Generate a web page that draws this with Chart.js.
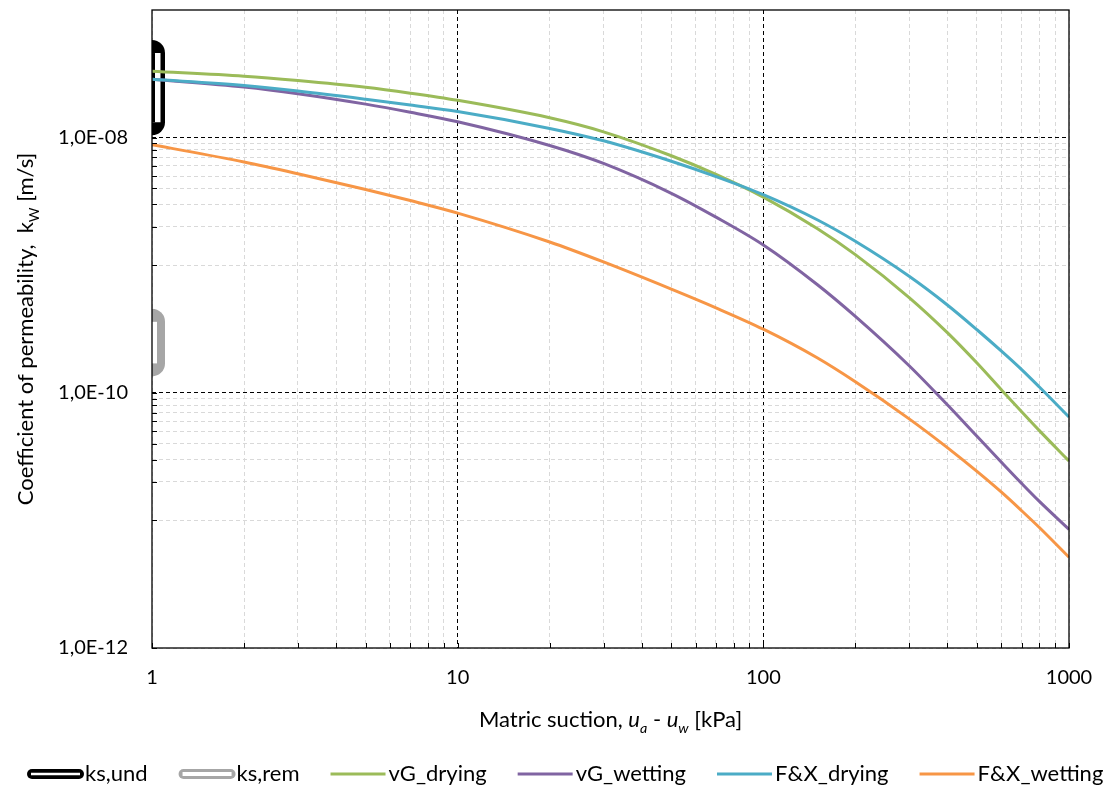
<!DOCTYPE html>
<html>
<head>
<meta charset="utf-8">
<script src="https://cdn.jsdelivr.net/npm/chart.js@4.4.1/dist/chart.umd.min.js"></script>
<style>
    html, body { margin: 0; padding: 0; background: #fff; }
</style>
</head>
<body>
<canvas id="myChart" width="1115" height="789"></canvas>

<script>
    // matric suction, ua - uw [kPa]
    const suction = [1, 2, 3, 5, 7, 10, 20, 30, 50, 70, 100, 150, 200, 300, 400, 500, 600, 700, 800, 1000];

    // coefficient of permeability kw [m/s]
    const vgDrying  = [3.31e-8, 3.03e-8, 2.80e-8, 2.48e-8, 2.23e-8, 1.96e-8, 1.43e-8, 1.11e-8, 7.21e-9, 5.15e-9,
                       3.42e-9, 1.94e-9, 1.21e-9, 5.58e-10, 2.96e-10, 1.71e-10, 1.06e-10, 7.10e-11, 5.05e-11, 2.92e-11];
    const vgWetting = [2.86e-8, 2.49e-8, 2.21e-8, 1.83e-8, 1.58e-8, 1.33e-8, 8.67e-9, 6.27e-9, 3.66e-9, 2.38e-9,
                       1.44e-9, 7.06e-10, 3.97e-10, 1.63e-10, 8.05e-11, 4.56e-11, 2.87e-11, 1.95e-11, 1.41e-11, 8.51e-12];
    const fxDrying  = [2.86e-8, 2.56e-8, 2.32e-8, 2.00e-8, 1.80e-8, 1.60e-8, 1.18e-8, 9.44e-9, 6.53e-9, 4.95e-9,
                       3.57e-9, 2.27e-9, 1.54e-9, 8.19e-10, 4.88e-10, 3.12e-10, 2.13e-10, 1.52e-10, 1.11e-10, 6.46e-11];
    const fxWetting = [8.79e-9, 6.44e-9, 5.21e-9, 3.92e-9, 3.21e-9, 2.56e-9, 1.52e-9, 1.06e-9, 6.49e-10, 4.63e-10,
                       3.15e-10, 1.88e-10, 1.22e-10, 6.25e-11, 3.72e-11, 2.42e-11, 1.67e-11, 1.19e-11, 8.79e-12, 5.14e-12];

    // saturated permeability ranges, plotted at the first suction value
    const ksSuction = [1, 1];
    const ksUnd = [1.32e-8, 4.6e-8];
    const ksRem = [1.7e-10, 3.6e-10];

    const xTickValues = [1, 10, 100, 1000];
    const xTickLabels = ['1', '10', '100', '1000'];
    const yTickValues = [1e-12, 1e-10, 1e-8];
    const yTickLabels = ['1,0E-12', '1,0E-10', '1,0E-08'];

    const FONT = 'Lato';

    // grid values: x in steps of 1..9 per decade, y in base-100 steps (k * 1e-11, k * 1e-9)
    const xGrid = [];
    for (let d = 0; d < 3; d++) {
        for (let k = 1; k < 10; k++) xGrid.push(k * Math.pow(10, d));
    }
    xGrid.push(1000);
    const yGrid = [1e-12];
    [-11, -9].forEach((e) => {
        for (let k = 1; k < 10; k++) yGrid.push(k * Math.pow(10, e));
        yGrid.push(Math.pow(10, e + 1));
    });

    function findIndex(list, value) {
        return list.findIndex((v) => Math.abs(Math.log10(v) - Math.log10(value)) < 1e-6);
    }

    function gridColor(list) {
        return (ctx) => (ctx.tick && findIndex(list, ctx.tick.value) >= 0) ? '#000000' : '#d9d9d9';
    }

    function points(xs, ys) {
        return xs.map((x, i) => ({ x: x, y: ys[i] }));
    }

    function curve(label, values, color, order) {
        return {
            label: label,
            data: points(suction, values),
            borderColor: color,
            backgroundColor: color,
            borderWidth: 3,
            pointRadius: 0,
            cubicInterpolationMode: 'monotone',
            order: order,
            clip: 0,
            legendIcon: 'line',
        };
    }

    function band(label, values, color, width, cap, order, icon) {
        return {
            label: label,
            data: points(ksSuction, values),
            borderColor: color,
            borderWidth: width,
            borderCapStyle: cap,
            pointRadius: 0,
            order: order,
            clip: 0,
            legendIcon: icon,
        };
    }

    const datasets = [
        band('ks,und', ksUnd, '#000000', 26, 'round', 12, 'ksund'),
        band('ks,und', ksUnd, '#ffffff', 17, 'butt', 11, null),
        band('ks,und', ksUnd, '#000000', 6, 'butt', 10, null),
        band('ks,rem', ksRem, '#a6a6a6', 26, 'round', 14, 'ksrem'),
        band('ks,rem', ksRem, '#ffffff', 10, 'butt', 13, null),
        curve('vG_drying', vgDrying, '#9bbb59', 4),
        curve('vG_wetting', vgWetting, '#8064a2', 3),
        curve('F&X_drying', fxDrying, '#4bacc6', 2),
        curve('F&X_wetting', fxWetting, '#f79646', 1),
    ];

    // frame, inward tick marks
    const framePlugin = {
        id: 'frame',
        afterDatasetsDraw(chart) {
            const { ctx, chartArea: a, scales } = chart;
            ctx.save();
            ctx.strokeStyle = '#000';
            ctx.lineWidth = 1;
            ctx.beginPath();
            xGrid.forEach((v) => {
                const px = Math.round(scales.x.getPixelForValue(v)) + 0.5;
                ctx.moveTo(px, a.bottom);
                ctx.lineTo(px, a.bottom - 5);
            });
            yGrid.forEach((v) => {
                const py = Math.round(scales.y.getPixelForValue(v)) + 0.5;
                ctx.moveTo(a.left, py);
                ctx.lineTo(a.left + 5, py);
            });
            ctx.stroke();
            ctx.lineWidth = 1.3;
            ctx.strokeRect(a.left, a.top, a.right - a.left, a.bottom - a.top);
            ctx.restore();
        }
    };

    function runFont(r, size) {
        const s = r.sub ? size * 0.65 : size;
        return (r.italic ? 'italic ' : '') + s + 'px ' + FONT;
    }

    function drawRuns(ctx, runs, cx, baseline, size) {
        let total = 0;
        runs.forEach((r) => { ctx.font = runFont(r, size); total += ctx.measureText(r.t).width; });
        let x = cx - total / 2;
        runs.forEach((r) => {
            ctx.font = runFont(r, size);
            ctx.fillText(r.t, x, baseline + (r.sub ? size * 0.25 : 0));
            x += ctx.measureText(r.t).width;
        });
    }

    // axis titles with italic / subscript parts
    const titlePlugin = {
        id: 'titles',
        afterDraw(chart) {
            const ctx = chart.ctx;
            const a = chart.chartArea;
            ctx.save();
            ctx.fillStyle = '#000';
            ctx.textAlign = 'left';
            ctx.textBaseline = 'alphabetic';
            drawRuns(ctx, [
                { t: 'Matric suction, ' },
                { t: 'u', italic: true },
                { t: 'a', italic: true, sub: true },
                { t: ' - ' },
                { t: 'u', italic: true },
                { t: 'w', italic: true, sub: true },
                { t: ' [kPa]' },
            ], (a.left + a.right) / 2, 727, 22);
            ctx.translate(33, (a.top + a.bottom) / 2);
            ctx.rotate(-Math.PI / 2);
            drawRuns(ctx, [
                { t: 'Coefficient of permeability,  k' },
                { t: 'W', sub: true },
                { t: ' [m/s]' },
            ], 0, 0, 22);
            ctx.restore();
        }
    };

    function drawIcon(ctx, ds, x, y) {
        ctx.save();
        if (ds.legendIcon === 'line') {
            ctx.strokeStyle = ds.borderColor;
            ctx.lineWidth = 3;
            ctx.beginPath();
            ctx.moveTo(x, y);
            ctx.lineTo(x + 55, y);
            ctx.stroke();
        } else {
            const dark = ds.legendIcon === 'ksund';
            ctx.lineCap = 'round';
            ctx.strokeStyle = ds.borderColor;
            ctx.lineWidth = 10;
            ctx.beginPath();
            ctx.moveTo(x + 5, y);
            ctx.lineTo(x + 52, y);
            ctx.stroke();
            ctx.lineCap = 'butt';
            ctx.strokeStyle = '#ffffff';
            ctx.lineWidth = dark ? 2.5 : 4;
            ctx.beginPath();
            ctx.moveTo(x + 4, y);
            ctx.lineTo(x + 53, y);
            ctx.stroke();
        }
        ctx.restore();
    }

    // legend along the bottom
    const legendPlugin = {
        id: 'bottomLegend',
        afterDraw(chart) {
            const ctx = chart.ctx;
            const y = 774;
            let x = 27;
            ctx.save();
            ctx.font = '22px ' + FONT;
            ctx.fillStyle = '#000';
            ctx.textBaseline = 'middle';
            chart.data.datasets.filter((ds) => ds.legendIcon).forEach((ds) => {
                drawIcon(ctx, ds, x, y);
                x += 58;
                ctx.fillText(ds.label, x, y);
                x += ctx.measureText(ds.label).width + 31;
            });
            ctx.restore();
        }
    };

    const CONFIG = {
        type: 'line',
        data: { datasets },
        options: {
            responsive: false,
            animation: false,
            devicePixelRatio: 1,
            layout: { padding: { top: 10, right: 46, bottom: 0, left: 0 } },
            plugins: {
                legend: { display: false },
                tooltip: { enabled: false },
            },
            scales: {
                x: {
                    type: 'logarithmic',
                    min: 1,
                    max: 1000,
                    afterBuildTicks: (scale) => { scale.ticks = xGrid.map((v) => ({ value: v })); },
                    afterFit: (scale) => { scale.height = 141; },
                    grid: { color: gridColor(xTickValues.slice(1, 3)), lineWidth: 1, drawTicks: false },
                    border: { display: false, dash: [4, 3] },
                    ticks: {
                        autoSkip: false, maxRotation: 0, minRotation: 0, padding: 18,
                        color: '#000', font: { family: FONT, size: 20 },
                        callback: (value) => {
                            const i = findIndex(xTickValues, value);
                            return i >= 0 ? xTickLabels[i] : '';
                        },
                    },
                },
                y: {
                    type: 'logarithmic',
                    min: 1e-12,
                    max: 1e-7,
                    afterBuildTicks: (scale) => { scale.ticks = yGrid.map((v) => ({ value: v })); },
                    afterFit: (scale) => {
                        scale.width = 152;
                        scale.paddingTop = 0;
                        scale.paddingBottom = 0;
                    },
                    grid: { color: gridColor(yTickValues.slice(1)), lineWidth: 1, drawTicks: false },
                    border: { display: false, dash: [4, 3] },
                    ticks: {
                        autoSkip: false, padding: 24,
                        color: '#000', font: { family: FONT, size: 20 },
                        callback: (value) => {
                            const i = findIndex(yTickValues, value);
                            return i >= 0 ? yTickLabels[i] : '';
                        },
                    },
                },
            },
        },
        plugins: [framePlugin, titlePlugin, legendPlugin],
    };

    const chart = new Chart(document.getElementById('myChart').getContext('2d'), CONFIG);
</script>
</body>
</html>
